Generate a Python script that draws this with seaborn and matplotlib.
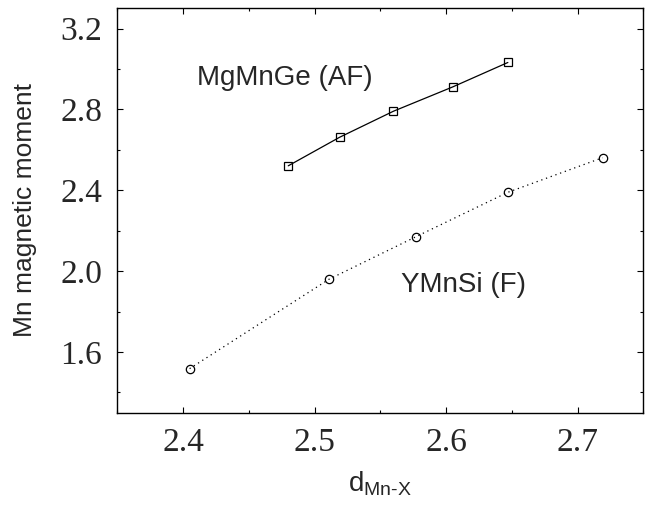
import matplotlib
matplotlib.use("Agg")
import matplotlib.pyplot as plt
import seaborn as sns
import numpy as np
import pandas as pd
from matplotlib.ticker import MultipleLocator

# Data
mgmnge_d = [2.480, 2.519, 2.560, 2.605, 2.647]
mgmnge_m = [2.521, 2.662, 2.791, 2.911, 3.032]
ymnsi_d = [2.405, 2.511, 2.577, 2.647, 2.719]
ymnsi_m = [1.518, 1.960, 2.170, 2.390, 2.561]
xticks = [2.4, 2.5, 2.6, 2.7]
yticks = [1.6, 2.0, 2.4, 2.8, 3.2]

sns.set_style("ticks")
plt.rcParams['font.family'] = ['Liberation Sans', 'DejaVu Sans']
plt.rcParams['mathtext.fontset'] = 'custom'
plt.rcParams['mathtext.rm'] = 'Liberation Sans'
plt.rcParams['mathtext.it'] = 'Liberation Sans'

fig = plt.figure(figsize=(6.56, 5.07), dpi=100)
ax = fig.add_axes([117.3/656, 1-412.7/507, (643.3-117.3)/656, (412.7-8.3)/507])

sns.lineplot(x=mgmnge_d, y=mgmnge_m, ax=ax, color='black', linewidth=0.9,
             linestyle='-', marker='s', markersize=6, markerfacecolor='none',
             markeredgecolor='black', markeredgewidth=0.9, sort=False)
sns.lineplot(x=ymnsi_d, y=ymnsi_m, ax=ax, color='black', linewidth=0.9,
             linestyle=(0, (1, 3)), marker='o', markersize=6, markerfacecolor='none',
             markeredgecolor='black', markeredgewidth=0.9, sort=False)

ax.set_xlim(2.35, 2.75)
ax.set_ylim(1.3, 3.3)
ax.set_xticks(xticks)
ax.set_yticks(yticks)
ax.set_xticklabels([f"{v:.1f}" for v in xticks])
ax.set_yticklabels([f"{v:.1f}" for v in yticks])
ax.xaxis.set_minor_locator(MultipleLocator(0.05))
ax.yaxis.set_minor_locator(MultipleLocator(0.2))
ax.tick_params(which='both', direction='in', top=True, right=True, width=0.8, color='black')
ax.tick_params(which='major', length=4, pad=11)
ax.tick_params(which='minor', length=2)
for lab in ax.get_xticklabels() + ax.get_yticklabels():
    lab.set_fontfamily('Liberation Serif')
    lab.set_fontsize(24)
for s in ax.spines.values():
    s.set_visible(True)
    s.set_linewidth(1.0)
    s.set_color('black')

ax.set_ylabel("Mn magnetic moment", fontsize=19)
ax.set_xlabel(r"d$_{\mathrm{Mn\text{-}X}}$", fontsize=20)
ax.yaxis.set_label_coords(-0.153, 0.5)
ax.xaxis.set_label_coords(0.5, -0.14)

ax.text(2.4104, 2.921, "MgMnGe (AF)", fontsize=20, ha='left', va='baseline')
ax.text(2.5656, 1.897, "YMnSi (F)", fontsize=20, ha='left', va='baseline')

fig.savefig("out.png", dpi=100)
